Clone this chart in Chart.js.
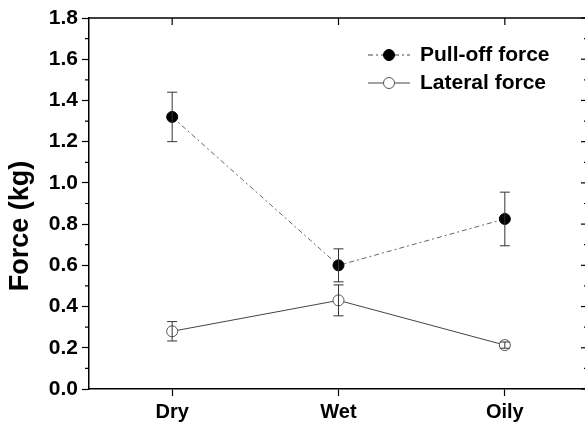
<!DOCTYPE html>
<html>
<head>
<meta charset="utf-8">
<script src="https://cdn.jsdelivr.net/npm/chart.js@4.4.1/dist/chart.umd.min.js"></script>
<style>
  html, body { margin: 0; padding: 0; background: #fff; overflow: hidden; }
  canvas { display: block; }
</style>
</head>
<body>
<canvas id="chart" width="600" height="424"></canvas>
<script>
// Datos
const conditions  = ['Dry', 'Wet', 'Oily'];
const pullOff     = [1.32, 0.60, 0.825];
const pullOffErr  = [0.12, 0.08, 0.13];
const lateral     = [0.28, 0.43, 0.213];
const lateralErr  = [0.047, 0.075, 0.015];

const FONT = 'Arial, "Liberation Sans", sans-serif';

// ------------------------------------------------------------
// Marco, ticks menores, barras de error, leyenda y título
// ------------------------------------------------------------
const extrasPlugin = {
    id: 'extras',
    afterDatasetsDraw(chart) {
        const ctx = chart.ctx;
        const xS = chart.scales.x, yS = chart.scales.y;
        const sets = [[pullOff, pullOffErr], [lateral, lateralErr]];
        ctx.save();
        ctx.strokeStyle = '#333';
        ctx.lineWidth = 1;
        sets.forEach(([vals, errs]) => {
            vals.forEach((v, i) => {
                const x = xS.getPixelForValue(i);
                const top = yS.getPixelForValue(v + errs[i]);
                const bot = yS.getPixelForValue(v - errs[i]);
                ctx.beginPath();
                ctx.moveTo(x, top); ctx.lineTo(x, bot);
                ctx.moveTo(x - 5, top); ctx.lineTo(x + 5, top);
                ctx.moveTo(x - 5, bot); ctx.lineTo(x + 5, bot);
                ctx.stroke();
            });
        });
        ctx.restore();
    },
    afterDraw(chart) {
        const ctx = chart.ctx;
        const a = chart.chartArea;
        const xS = chart.scales.x, yS = chart.scales.y;
        ctx.save();
        ctx.strokeStyle = '#000';
        ctx.lineWidth = 1.5;

        // marco superior y derecho
        ctx.beginPath();
        ctx.moveTo(a.left, a.top); ctx.lineTo(a.right, a.top); ctx.lineTo(a.right, a.bottom);
        ctx.stroke();

        // ticks menores izquierda + ticks derecha (hacia dentro)
        ctx.lineWidth = 1.2;
        for (let k = 0; k <= 18; k++) {
            const v = k / 10;
            const y = yS.getPixelForValue(v);
            const major = k % 2 === 0;
            ctx.beginPath();
            if (!major) { ctx.moveTo(a.left - 4, y); ctx.lineTo(a.left, y); }
            ctx.moveTo(a.right, y); ctx.lineTo(a.right - (major ? 7 : 4), y);
            ctx.stroke();
        }
        // ticks superiores en categorías
        conditions.forEach((c, i) => {
            const x = xS.getPixelForValue(i);
            ctx.beginPath();
            ctx.moveTo(x, a.top); ctx.lineTo(x, a.top + 7);
            ctx.stroke();
        });

        // leyenda
        const lx0 = 368, lx1 = 410, mx = 389, tx = 420;
        const rows = [
            { y: 55, dash: [5, 3, 2, 3], fill: '#000', stroke: '#000', label: 'Pull-off force' },
            { y: 83, dash: [], fill: '#fff', stroke: '#555', label: 'Lateral force' }
        ];
        rows.forEach(r => {
            ctx.strokeStyle = '#444';
            ctx.lineWidth = 1;
            ctx.setLineDash(r.dash);
            ctx.beginPath();
            ctx.moveTo(lx0, r.y); ctx.lineTo(lx1, r.y);
            ctx.stroke();
            ctx.setLineDash([]);
            ctx.beginPath();
            ctx.arc(mx, r.y, 5.5, 0, Math.PI * 2);
            ctx.fillStyle = r.fill; ctx.fill();
            ctx.strokeStyle = r.stroke; ctx.stroke();
            ctx.fillStyle = '#000';
            ctx.font = 'bold 21px ' + FONT;
            ctx.textBaseline = 'middle';
            ctx.textAlign = 'left';
            ctx.fillText(r.label, tx, r.y);
        });

        // título eje Y
        ctx.translate(21, 226);
        ctx.rotate(-Math.PI / 2);
        ctx.font = 'bold 27px ' + FONT;
        ctx.textAlign = 'center';
        ctx.textBaseline = 'middle';
        ctx.fillStyle = '#000';
        ctx.fillText('Force (kg)', 0, 0);
        ctx.restore();
    }
};

new Chart(document.getElementById('chart'), {
    type: 'line',
    data: {
        labels: conditions,
        datasets: [
            {
                label: 'Pull-off force',
                data: pullOff,
                borderColor: '#666',
                borderWidth: 1,
                borderDash: [5, 3, 2, 3],
                pointRadius: 5.5,
                pointBackgroundColor: '#000',
                pointBorderColor: '#000',
                pointBorderWidth: 1,
                tension: 0,
                fill: false
            },
            {
                label: 'Lateral force',
                data: lateral,
                borderColor: '#444',
                borderWidth: 1,
                pointRadius: 5.5,
                pointBackgroundColor: '#fff',
                pointBorderColor: '#555',
                pointBorderWidth: 1,
                tension: 0,
                fill: false
            }
        ]
    },
    options: {
        responsive: false,
        animation: false,
        layout: { padding: { top: 18, right: 12, left: 0, bottom: 0 } },
        plugins: { legend: { display: false }, tooltip: { enabled: false } },
        scales: {
            x: {
                type: 'category',
                offset: true,
                afterFit: s => { s.height = 35; },
                grid: { drawOnChartArea: false, drawTicks: true, tickLength: 7, color: '#000', tickWidth: 1.2 },
                border: { display: true, color: '#000', width: 1.5 },
                ticks: { color: '#000', padding: 4, font: { family: FONT, size: 20, weight: 'bold' } }
            },
            y: {
                min: 0,
                max: 1.8,
                afterFit: s => { s.width = 89; },
                grid: { drawOnChartArea: false, drawTicks: true, tickLength: 7, color: '#000', tickWidth: 1.2 },
                border: { display: true, color: '#000', width: 1.5 },
                ticks: {
                    stepSize: 0.2,
                    color: '#000',
                    padding: 4,
                    font: { family: FONT, size: 21, weight: 'bold' },
                    callback: v => v.toFixed(1)
                }
            }
        }
    },
    plugins: [extrasPlugin]
});
</script>
</body>
</html>
